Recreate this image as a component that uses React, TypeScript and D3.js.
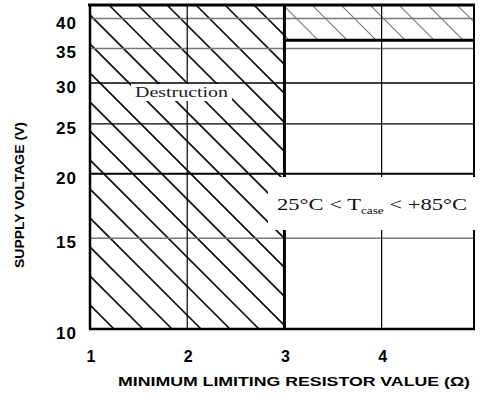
import React from "react";
import * as d3 from "d3";

// ---- data ----
const xTicks = [1, 2, 3, 4];
const yTicks = [10, 15, 20, 25, 30, 35, 40];
const xDomain = [1, 4.95];
const yDomain = [10, 42.5];
const safeMinResistor = 3; // boundary of the destruction zone
const safeMaxVoltage = 36.3; // upper limit of the safe area
const xTitle = "MINIMUM LIMITING RESISTOR VALUE (Ω)";
const yTitle = "SUPPLY VOLTAGE (V)";
const zoneLabel = "Destruction";
const tempLabelPre = "25°C < T";
const tempLabelSub = "case";
const tempLabelPost = " < +85°C";

const W = 480;
const H = 414;
const M = { left: 90, right: 474, top: 5, bottom: 329 };

const x = d3.scaleLinear().domain(xDomain).range([M.left, M.right]);
const y = d3.scaleLog().domain(yDomain).range([M.bottom, M.top]);

const hGridStyle = (v: number) => {
  if (v === 20) return { stroke: "#000", w: 2 };
  if (v === 30) return { stroke: "#000", w: 1.6 };
  if (v === 25) return { stroke: "#000", w: 1.2 };
  return { stroke: "#777", w: 1.5 };
};

function hatchLines(spacing: number, phase: number) {
  const cMin = M.top - M.right;
  const cMax = M.bottom - M.left;
  const k0 = Math.floor((cMin - phase) / spacing);
  const k1 = Math.ceil((cMax - phase) / spacing);
  return d3.range(k0, k1 + 1).map((k) => phase + k * spacing);
}

export default function App() {
  const cs = hatchLines(29, 215);
  const darkZone = {
    x0: x(xDomain[0]), x1: x(safeMinResistor), y0: y(yDomain[1]), y1: y(yDomain[0]),
  };
  const lightZone = {
    x0: x(safeMinResistor), x1: x(xDomain[1]), y0: y(yDomain[1]), y1: y(safeMaxVoltage),
  };
  const seg = (c: number) => {
    // y = x + c
    const xa = M.left - 20, xb = M.right + 20;
    return { x1: xa, y1: xa + c, x2: xb, y2: xb + c };
  };
  return (
    <svg width={W} height={H} style={{ position: "absolute", left: 0, top: 0, background: "#fff" }}
      fontFamily="'Liberation Sans', Arial, sans-serif">
      <defs>
        <clipPath id="darkZone">
          <rect x={darkZone.x0} y={darkZone.y0} width={darkZone.x1 - darkZone.x0} height={darkZone.y1 - darkZone.y0} />
        </clipPath>
        <clipPath id="lightZone">
          <rect x={lightZone.x0} y={lightZone.y0} width={lightZone.x1 - lightZone.x0} height={lightZone.y1 - lightZone.y0} />
        </clipPath>
      </defs>
      <rect width={W} height={H} fill="#fff" />

      {/* hatching */}
      <g clipPath="url(#darkZone)">
        {cs.map((c) => { const s = seg(c); return <line key={c} {...s} stroke="#111" strokeWidth={1.6} />; })}
      </g>
      <g clipPath="url(#lightZone)">
        {cs.map((c) => { const s = seg(c); return <line key={c} {...s} stroke="#777" strokeWidth={1.1} />; })}
      </g>

      {/* horizontal grid */}
      {yTicks.filter((v) => v !== 10).map((v) => {
        const st = hGridStyle(v);
        return <line key={v} x1={M.left} x2={M.right} y1={y(v)} y2={y(v)} stroke={st.stroke} strokeWidth={st.w} />;
      })}
      {/* vertical grid */}
      {xTicks.filter((v) => v !== 1 && v !== safeMinResistor).map((v) => (
        <line key={v} x1={x(v)} x2={x(v)} y1={M.top} y2={M.bottom} stroke="#000" strokeWidth={1.2} />
      ))}
      {/* boundary lines */}
      <line x1={x(safeMinResistor)} x2={x(safeMinResistor)} y1={M.top} y2={M.bottom} stroke="#000" strokeWidth={3} />
      <line x1={x(safeMinResistor)} x2={M.right} y1={y(safeMaxVoltage)} y2={y(safeMaxVoltage)} stroke="#000" strokeWidth={3} />

      {/* frame */}
      <line x1={M.left - 2} x2={M.right + 1} y1={M.top} y2={M.top} stroke="#000" strokeWidth={3} />
      <line x1={M.left} x2={M.left} y1={M.top} y2={M.bottom} stroke="#000" strokeWidth={2.5} />
      <line x1={M.left - 1} x2={M.right + 1} y1={M.bottom} y2={M.bottom} stroke="#000" strokeWidth={2.5} />
      <line x1={M.right} x2={M.right} y1={M.top} y2={M.bottom} stroke="#000" strokeWidth={2} />

      {/* labels in plot */}
      <rect x={131} y={84} width={101} height={17} fill="#fff" />
      <text x={135} y={97} fontFamily="'Liberation Serif', 'Times New Roman', serif" fontSize={14}
        textLength={93} lengthAdjust="spacingAndGlyphs" fill="#222">{zoneLabel}</text>

      <rect x={268} y={177} width={210} height={53} fill="#fff" />
      <text x={277} y={210} fontFamily="'Liberation Serif', 'Times New Roman', serif" fontSize={17}
        textLength={190} lengthAdjust="spacingAndGlyphs" fill="#111">
        {tempLabelPre}
        <tspan fontSize={10} dy={4}>{tempLabelSub}</tspan>
        <tspan dy={-4}>{tempLabelPost}</tspan>
      </text>

      {/* y tick labels */}
      {yTicks.map((v) => (
        <text key={v} x={77} y={y(v) + 10} textAnchor="end" fontSize={17} fontWeight="bold" letterSpacing={1} fill="#000">{v}</text>
      ))}
      {/* x tick labels */}
      {xTicks.map((v) => (
        <text key={v} x={x(v) + 1} y={362} textAnchor="middle" fontSize={16} fontWeight="bold" fill="#000">{v}</text>
      ))}

      {/* axis titles */}
      <text x={294} y={386} textAnchor="middle" fontSize={12.5} fontWeight="bold" textLength={352}
        lengthAdjust="spacingAndGlyphs" fill="#000">{xTitle}</text>
      <text transform={`translate(24,195) rotate(-90)`} textAnchor="middle" fontSize={13} fontWeight="bold"
        textLength={146} lengthAdjust="spacingAndGlyphs" fill="#000">{yTitle}</text>
    </svg>
  );
}
